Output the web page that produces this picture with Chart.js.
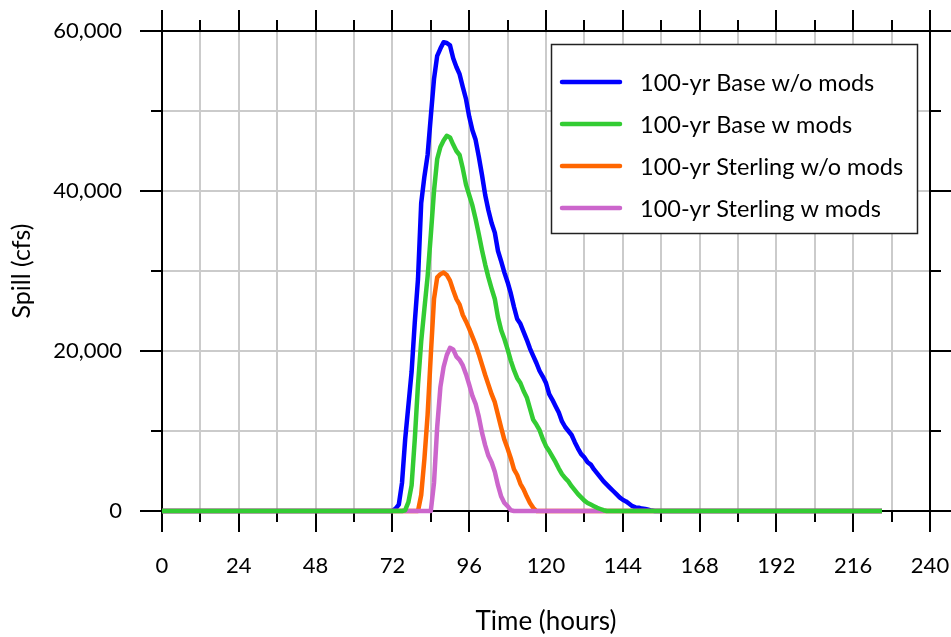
<!DOCTYPE html>
<html>
<head>
<meta charset="utf-8">
<title>Spill hydrographs</title>
<script src="https://cdn.jsdelivr.net/npm/chart.js@4.4.1/dist/chart.umd.min.js"></script>
<style>
  html, body { margin: 0; padding: 0; background: #fff; }
  #wrap { width: 951px; height: 637px; }
</style>
</head>
<body>
<div id="wrap"><canvas id="spill"></canvas></div>
<script>
// time axis (hours) shared by all four runs; spill values in 1000 cfs
const hours = [0,
  72, 73, 74, 75, 76, 77, 78, 79, 80, 81, 82, 83, 84, 85, 86, 87, 88, 89, 90,
  91, 92, 93, 94, 95, 96, 97, 98, 99, 100, 101, 102, 103, 104, 105, 106, 107, 108, 109, 110,
  111, 112, 113, 114, 115, 116, 117, 118, 119, 120, 121, 122, 123, 124, 125, 126, 127, 128, 129, 130,
  131, 132, 133, 134, 135, 136, 137, 138, 139, 140, 141, 142, 143, 144, 145, 146, 147, 148, 149, 150,
  151, 152, 153, 154, 155, 156,
  225];

const baseNoMods = [0,
  0, 0.3, 0.8, 3.5, 9, 13.2, 17.4, 23.6, 29, 38.5, 41.8, 44.5, 49.3, 54, 56.9, 57.8, 58.6, 58.5, 58.2,
  56.6, 55.5, 54.6, 53, 51.5, 49.3, 47.6, 46.4, 44.3, 42, 39.5, 37.6, 36, 34.8, 32.5, 31.2, 29.8, 28.6, 27.2, 25.5,
  24, 23.4, 22.4, 21.4, 20.3, 19.4, 18.5, 17.5, 16.8, 16, 14.6, 13.9, 13.1, 12.3, 11.2, 10.5, 10, 9.5, 8.6, 7.8,
  7.1, 6.7, 6.1, 5.8, 5.2, 4.7, 4.2, 3.7, 3.3, 2.9, 2.5, 2.1, 1.7, 1.4, 1.2, 0.9, 0.6, 0.45, 0.4, 0.3,
  0.25, 0.15, 0.05, 0, 0, 0,
  0];

const baseMods = [0,
  0, 0, 0, 0, 0.1, 1.1, 3.2, 9, 15.8, 21.2, 25.3, 29.3, 34.5, 40, 44, 45.5, 46.3, 46.9, 46.7,
  45.8, 45, 44.5, 42.8, 40.8, 39.5, 38.2, 36.5, 34.6, 32.6, 30.8, 29.2, 27.8, 26.5, 24.2, 22.6, 21.5, 20.2, 18.8, 17.6,
  16.6, 16, 15, 14.2, 12.8, 11.4, 10.8, 10.1, 9, 8.1, 7.5, 6.8, 6.1, 5.3, 4.6, 4.1, 3.7, 3.1, 2.6, 2.1,
  1.7, 1.3, 1, 0.8, 0.6, 0.4, 0.25, 0.1, 0, 0, 0, 0, 0, 0, 0, 0, 0, 0, 0, 0,
  0, 0, 0, 0, 0, 0,
  0];

const sterlingNoMods = [0,
  0, 0, 0, 0, 0, 0, 0, 0, 0, 2, 6.5, 12, 19.5, 26.5, 29.2, 29.6, 29.8, 29.5, 28.8,
  27.6, 26.5, 25.8, 24.5, 23.7, 22.8, 21.8, 20.8, 19.6, 18.3, 17, 15.8, 14.6, 13.6, 12, 10.4, 8.9, 7.8, 6.6, 5.2,
  4.5, 3.4, 2.7, 1.8, 1, 0.4, 0, 0, 0, 0, 0, 0, 0, 0, 0, 0, 0, 0, 0, 0,
  0, 0, 0, 0, 0, 0, 0, 0, 0, 0, 0, 0, 0, 0, 0, 0, 0, 0, 0, 0,
  0, 0, 0, 0, 0, 0,
  0];

const sterlingMods = [0,
  0, 0, 0, 0, 0, 0, 0, 0, 0, 0, 0, 0, 0, 3.5, 10.5, 15.5, 18, 19.5, 20.4,
  20.2, 19.3, 18.9, 18.2, 17.1, 15.8, 14.4, 13.4, 11.8, 9.8, 8.2, 6.9, 6.1, 4.9, 3.2, 1.8, 1, 0.6, 0.1, 0,
  0, 0, 0, 0, 0, 0, 0, 0, 0, 0, 0, 0, 0, 0, 0, 0, 0, 0, 0, 0,
  0, 0, 0, 0, 0, 0, 0, 0, 0, 0, 0, 0, 0, 0, 0, 0, 0, 0, 0, 0,
  0, 0, 0, 0, 0, 0,
  0];

const seriesNames = ['100-yr Base w/o mods', '100-yr Base w mods', '100-yr Sterling w/o mods', '100-yr Sterling w mods'];
const seriesColors = ['#0000ff', '#33cc33', '#ff6600', '#cc66cc'];
// green sits on top of the others along the zero line, blue underneath
const drawOrder = [3, 0, 2, 1];

const KCFS = 1000;
const toPoints = vals => vals.map((v, i) => ({x: hours[i], y: v * KCFS}));

const FONT = 'Lato';
const TICK_LONG = 21;
const TICK_SHORT = 11;

// black frame on all four sides, ticks pointing outwards
const framePlugin = {
  id: 'frame',
  beforeDatasetsDraw(chart) {
    const {ctx, chartArea: a, scales: {x, y}} = chart;
    ctx.save();
    ctx.strokeStyle = '#000';
    ctx.lineWidth = 2;
    ctx.beginPath();
    ctx.moveTo(a.left, a.top); ctx.lineTo(a.right, a.top);
    ctx.moveTo(a.left, a.bottom); ctx.lineTo(a.right, a.bottom);
    ctx.moveTo(a.left, a.top); ctx.lineTo(a.left, a.bottom);
    ctx.moveTo(a.right, a.top); ctx.lineTo(a.right, a.bottom);
    x.ticks.forEach(t => {
      const px = Math.round(x.getPixelForValue(t.value));
      const len = t.value % 24 === 0 ? TICK_LONG : TICK_SHORT;
      ctx.moveTo(px, a.bottom); ctx.lineTo(px, a.bottom + len);
      ctx.moveTo(px, a.top); ctx.lineTo(px, a.top - len);
    });
    y.ticks.forEach(t => {
      const py = Math.round(y.getPixelForValue(t.value));
      const len = t.value % 20000 === 0 ? TICK_LONG + 1 : TICK_SHORT;
      ctx.moveTo(a.left, py); ctx.lineTo(a.left - len, py);
      ctx.moveTo(a.right, py); ctx.lineTo(a.right + len, py);
    });
    ctx.stroke();
    ctx.restore();
  }
};

// boxed legend in the upper right of the plot
const boxLegend = {
  id: 'boxLegend',
  afterDatasetsDraw(chart) {
    const {ctx} = chart;
    const left = 551, top = 44, width = 366, height = 189;
    const rowY = [82, 124, 166, 208];
    ctx.save();
    ctx.fillStyle = '#fff';
    ctx.fillRect(left, top, width, height);
    ctx.strokeStyle = '#222';
    ctx.lineWidth = 1.5;
    ctx.strokeRect(left + 0.5, top + 0.5, width, height);
    ctx.lineCap = 'round';
    ctx.lineWidth = 4.5;
    ctx.font = '23.5px ' + FONT;
    ctx.textBaseline = 'middle';
    ctx.fillStyle = '#000';
    seriesNames.forEach((name, i) => {
      ctx.strokeStyle = seriesColors[i];
      ctx.beginPath();
      ctx.moveTo(562, rowY[i]);
      ctx.lineTo(620, rowY[i]);
      ctx.stroke();
      ctx.fillText(name, 640, rowY[i] + 1);
    });
    ctx.restore();
  }
};

const runs = [baseNoMods, baseMods, sterlingNoMods, sterlingMods];

const spillData = {
  datasets: runs.map((vals, i) => ({
    label: seriesNames[i],
    data: toPoints(vals),
    borderColor: seriesColors[i],
    backgroundColor: seriesColors[i],
    borderWidth: 4.5,
    pointRadius: 0,
    tension: 0,
    borderJoinStyle: 'round',
    order: drawOrder[i],
    clip: false
  }))
};

const spillConfig = {
  type: 'line',
  data: spillData,
  options: {
    responsive: true,
    maintainAspectRatio: false,
    animation: false,
    devicePixelRatio: 1,
    layout: {padding: {top: 31, right: 21, left: 0, bottom: 0}},
    scales: {
      x: {
        type: 'linear',
        min: 0,
        max: 240,
        afterFit: s => { s.height = 126; s.paddingLeft = 0; s.paddingRight = 0; },
        border: {display: false},
        grid: {color: '#cbcbcb', lineWidth: 2, drawTicks: false},
        ticks: {
          stepSize: 12,
          autoSkip: false,
          maxRotation: 0,
          padding: 42,
          color: '#000',
          font: {family: FONT, size: 22},
          callback: v => (v % 24 === 0 ? String(v) : '')
        },
        title: {
          display: true,
          text: 'Time (hours)',
          color: '#000',
          font: {family: FONT, size: 26},
          padding: {top: 0, bottom: 0}
        }
      },
      y: {
        min: 0,
        max: 60000,
        afterFit: s => { s.width = 162; s.paddingTop = 0; s.paddingBottom = 0; },
        border: {display: false},
        grid: {color: '#cbcbcb', lineWidth: 2, drawTicks: false},
        ticks: {
          stepSize: 10000,
          padding: 40,
          color: '#000',
          font: {family: FONT, size: 22},
          callback: v => (v % 20000 === 0 ? v.toLocaleString('en-US') : '')
        },
        title: {
          display: true,
          text: 'Spill (cfs)',
          color: '#000',
          font: {family: FONT, size: 25},
          padding: {top: 7, bottom: 0}
        }
      }
    },
    plugins: {
      legend: {display: false},
      tooltip: {enabled: false}
    }
  },
  plugins: [framePlugin, boxLegend]
};

new Chart('spill', spillConfig);
</script>
</body>
</html>
